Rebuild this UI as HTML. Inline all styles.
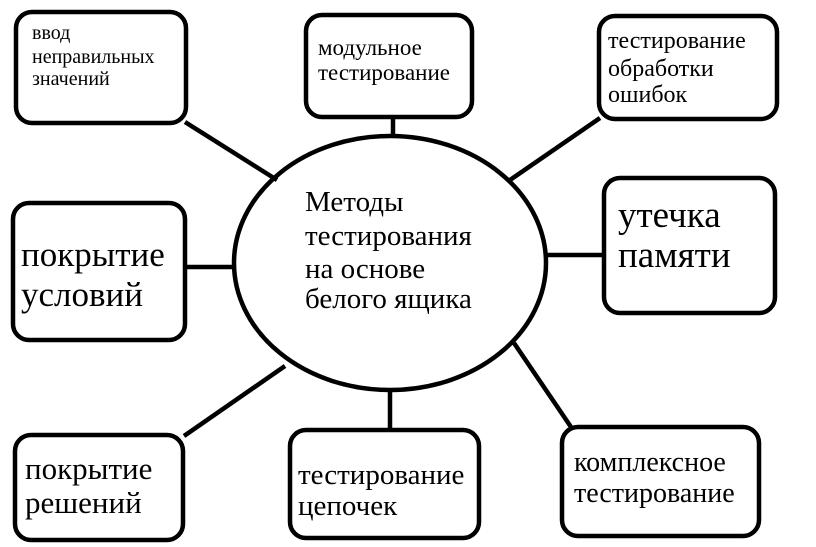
<!DOCTYPE html>
<html><head><meta charset="utf-8"><style>
html,body{margin:0;padding:0;background:#fff;}
svg{display:block}
text{font-family:"Liberation Serif","DejaVu Serif",serif;fill:#000;}
</style></head><body>
<svg width="816" height="547" viewBox="0 0 816 547" xmlns="http://www.w3.org/2000/svg">
<g fill="none" stroke="#000" stroke-width="4.5">
<line x1="185" y1="122" x2="277" y2="180"/>
<line x1="393" y1="116" x2="393" y2="137"/>
<line x1="600" y1="118" x2="510" y2="180"/>
<line x1="185" y1="267" x2="234" y2="267"/>
<line x1="546" y1="255" x2="604" y2="255"/>
<line x1="184" y1="436" x2="285" y2="366"/>
<line x1="390" y1="389" x2="390" y2="430"/>
<line x1="514" y1="343" x2="571" y2="427"/>
<ellipse cx="390" cy="263" rx="156" ry="127"/>
<rect x="16" y="12" width="170" height="111" rx="16"/>
<rect x="306" y="15" width="166" height="102" rx="16"/>
<rect x="599" y="16" width="178" height="103" rx="16"/>
<rect x="13" y="203" width="172" height="137" rx="16"/>
<rect x="604" y="178" width="171" height="135" rx="16"/>
<rect x="15" y="435" width="168" height="105" rx="16"/>
<rect x="290" y="430" width="189" height="108" rx="16"/>
<rect x="562" y="427" width="197" height="109" rx="16"/>
</g>
<g font-size="20"><text x="32" y="39">ввод</text><text x="32" y="63">неправильных</text><text x="32" y="85">значений</text></g>
<g font-size="23"><text x="318" y="55">модульное</text><text x="318" y="80">тестирование</text></g>
<g font-size="24"><text x="608" y="48">тестирование</text><text x="608" y="76">обработки</text><text x="608" y="102">ошибок</text></g>
<g font-size="29"><text x="305" y="211">Методы</text><text x="305" y="245">тестирования</text><text x="305" y="278">на основе</text><text x="305" y="308">белого ящика</text></g>
<g font-size="35"><text x="21" y="266">покрытие</text><text x="21" y="306">условий</text></g>
<g font-size="37"><text x="618" y="227">утечка</text><text x="618" y="267">памяти</text></g>
<g font-size="31"><text x="25" y="479">покрытие</text><text x="25" y="513">решений</text></g>
<g font-size="29"><text x="298" y="484">тестирование</text><text x="298" y="515">цепочек</text></g>
<g font-size="28"><text x="574" y="471">комплексное</text><text x="574" y="502">тестирование</text></g>
</svg>
</body></html>
